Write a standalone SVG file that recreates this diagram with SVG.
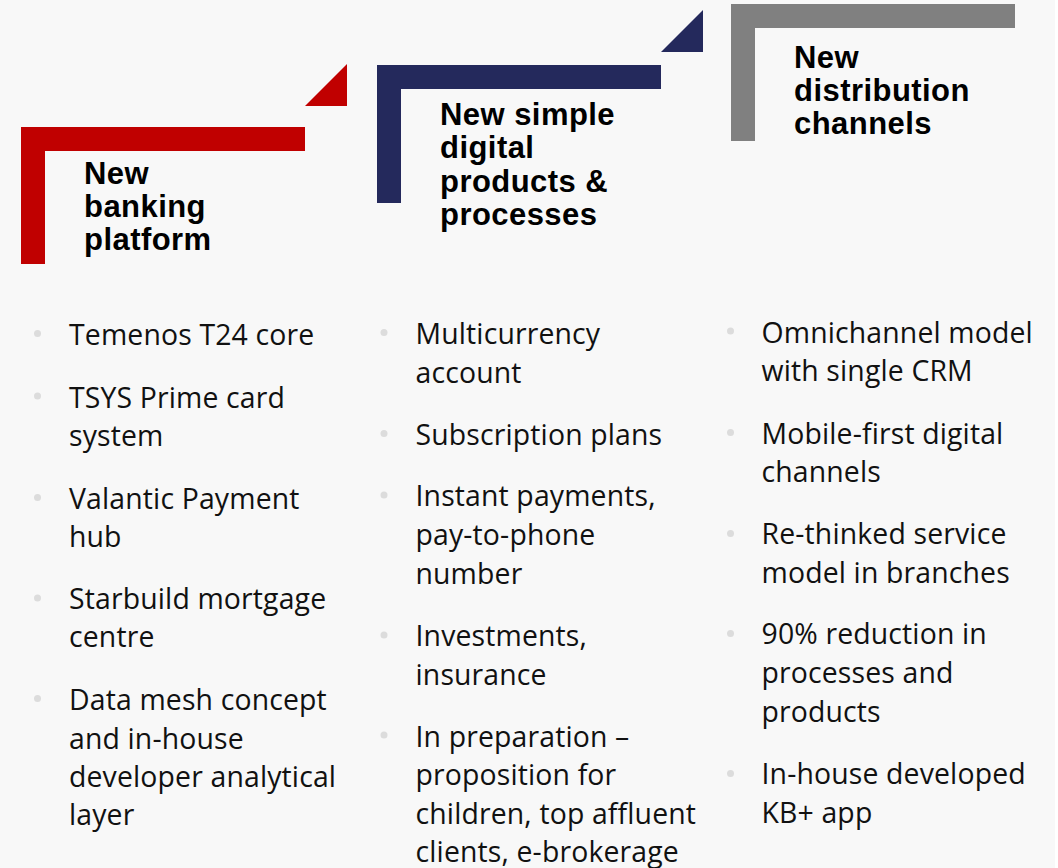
<svg xmlns="http://www.w3.org/2000/svg" width="1058" height="868" viewBox="0 0 1058 868">
  <style>
    .title { font-family: "Liberation Sans", Arial, sans-serif; font-weight: bold; font-size: 31px; letter-spacing: 0.45px; fill: #000; }
    .item { font-family: "Open Sans", "Noto Sans", sans-serif; font-size: 28.4px; letter-spacing: 0.15px; fill: #111; }
    .dot { fill: #DCDCDC; }
    .red { fill: #C00000; }
    .navy { fill: #24295C; }
    .gray { fill: #808080; }
  </style>
  <rect x="0" y="0" width="1058" height="868" fill="#FFFFFF"/>
  <rect x="0" y="0" width="1055" height="868" fill="#F8F8F8"/>

  <g id="step-banking-platform">
    <rect class="red" x="21" y="127" width="284" height="24"/>
    <rect class="red" x="21" y="127" width="24" height="137"/>
    <polygon class="red" points="305,106 347,106 347,64"/>
    <text class="title"><tspan x="84" y="184">New</tspan><tspan x="84" y="217">banking</tspan><tspan x="84" y="250">platform</tspan></text>
  </g>

  <g id="step-digital-products">
    <rect class="navy" x="377" y="65" width="284" height="24"/>
    <rect class="navy" x="377" y="65" width="24" height="138"/>
    <polygon class="navy" points="661,52 703,52 703,10"/>
    <text class="title"><tspan x="440" y="125">New simple</tspan><tspan x="440" y="158">digital</tspan><tspan x="440" y="191.5">products &amp;</tspan><tspan x="440" y="225">processes</tspan></text>
  </g>

  <g id="step-distribution-channels">
    <rect class="gray" x="731" y="4" width="284" height="24"/>
    <rect class="gray" x="731" y="4" width="24" height="137"/>
    <text class="title"><tspan x="794" y="68">New</tspan><tspan x="794" y="101">distribution</tspan><tspan x="794" y="134">channels</tspan></text>
  </g>

  <g id="list-banking-platform">
    <circle class="dot" cx="37.5" cy="333.5" r="3.5"/>
    <circle class="dot" cx="37.5" cy="396" r="3.5"/>
    <circle class="dot" cx="37.5" cy="497.5" r="3.5"/>
    <circle class="dot" cx="37.5" cy="598" r="3.5"/>
    <circle class="dot" cx="37.5" cy="698.5" r="3.5"/>
    <text class="item">
      <tspan x="69" y="345">Temenos T24 core</tspan>
      <tspan x="69" y="408">TSYS Prime card</tspan>
      <tspan x="69" y="446">system</tspan>
      <tspan x="69" y="508.5">Valantic Payment</tspan>
      <tspan x="69" y="547">hub</tspan>
      <tspan x="69" y="608.5">Starbuild mortgage</tspan>
      <tspan x="69" y="647">centre</tspan>
      <tspan x="69" y="710">Data mesh concept</tspan>
      <tspan x="69" y="748.5">and in-house</tspan>
      <tspan x="69" y="787">developer analytical</tspan>
      <tspan x="69" y="825">layer</tspan>
    </text>
  </g>

  <g id="list-digital-products">
    <circle class="dot" cx="384" cy="332.5" r="3.5"/>
    <circle class="dot" cx="384" cy="433.5" r="3.5"/>
    <circle class="dot" cx="384" cy="495" r="3.5"/>
    <circle class="dot" cx="384" cy="635" r="3.5"/>
    <circle class="dot" cx="384" cy="735" r="3.5"/>
    <text class="item">
      <tspan x="415.5" y="344">Multicurrency</tspan>
      <tspan x="415.5" y="383">account</tspan>
      <tspan x="415.5" y="445">Subscription plans</tspan>
      <tspan x="415.5" y="506">Instant payments,</tspan>
      <tspan x="415.5" y="545">pay-to-phone</tspan>
      <tspan x="415.5" y="583.5">number</tspan>
      <tspan x="415.5" y="646">Investments,</tspan>
      <tspan x="415.5" y="685">insurance</tspan>
      <tspan x="415.5" y="747">In preparation –</tspan>
      <tspan x="415.5" y="785">proposition for</tspan>
      <tspan x="415.5" y="823.5">children, top affluent</tspan>
      <tspan x="415.5" y="862">clients, e-brokerage</tspan>
    </text>
  </g>

  <g id="list-distribution-channels">
    <circle class="dot" cx="730.5" cy="331" r="3.5"/>
    <circle class="dot" cx="730.5" cy="432.5" r="3.5"/>
    <circle class="dot" cx="730.5" cy="533.5" r="3.5"/>
    <circle class="dot" cx="730.5" cy="633.5" r="3.5"/>
    <circle class="dot" cx="730.5" cy="773.5" r="3.5"/>
    <text class="item">
      <tspan x="761.5" y="343">Omnichannel model</tspan>
      <tspan x="761.5" y="381">with single CRM</tspan>
      <tspan x="761.5" y="444">Mobile-first digital</tspan>
      <tspan x="761.5" y="482">channels</tspan>
      <tspan x="761.5" y="544">Re-thinked service</tspan>
      <tspan x="761.5" y="582.5">model in branches</tspan>
      <tspan x="761.5" y="644">90% reduction in</tspan>
      <tspan x="761.5" y="683">processes and</tspan>
      <tspan x="761.5" y="721.5">products</tspan>
      <tspan x="761.5" y="784">In-house developed</tspan>
      <tspan x="761.5" y="822.5">KB+ app</tspan>
    </text>
  </g>

  <g id="connectors"/>
</svg>
